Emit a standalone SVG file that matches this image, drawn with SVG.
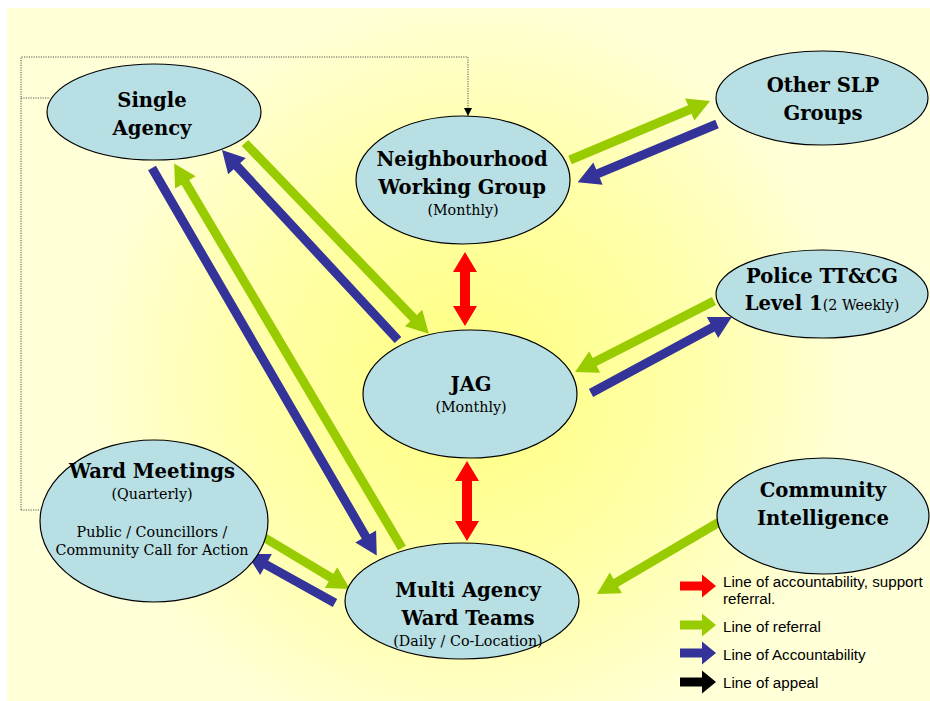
<svg xmlns="http://www.w3.org/2000/svg" width="930" height="701" viewBox="0 0 930 701">
<defs>
<radialGradient id="bg" gradientUnits="userSpaceOnUse" cx="470" cy="380" r="390">
<stop offset="0" stop-color="#FFFF80"/>
<stop offset="0.55" stop-color="#FFFFA8"/>
<stop offset="1" stop-color="#FFFFD8"/>
</radialGradient>
<marker id="dotHead" viewBox="0 0 10 10" refX="10" refY="5" markerWidth="8" markerHeight="8" markerUnits="userSpaceOnUse" orient="auto">
<path d="M0,0 L10,5 L0,10 z" fill="#000"/>
</marker>
<style>
.node{fill:#B8DFE3;stroke:#000;stroke-width:1.2}
.t{font-family:"DejaVu Serif","Liberation Serif",serif;font-weight:bold;font-size:19.6px;fill:#000;text-anchor:middle}
.s{font-family:"DejaVu Serif","Liberation Serif",serif;font-weight:normal;font-size:14.3px;fill:#000;text-anchor:middle}
.green{fill:#99CC00}
.blue{fill:#333399}
.red{fill:#FF0000}
.black{fill:#000}
.dot{fill:none;stroke:#555;stroke-width:1;stroke-dasharray:1.2,1.2}
.leg{font-family:"Liberation Sans",Arial,sans-serif;font-size:15.2px;fill:#000}
</style>
</defs>
<rect x="0" y="0" width="930" height="701" fill="#fff"/>
<rect x="7" y="8" width="923" height="693" fill="url(#bg)"/>

<g id="connectors">
<path class="dot" d="M21,510 L40,510"/>
<path class="dot" d="M21,98 L50,98"/>
<path class="dot" d="M21,510 L21,57 L468,57 L468,116" marker-end="url(#dotHead)"/>
<polygon class="green" transform="translate(570,160) rotate(-22.85)" points="0,-4.5 130,-4.5 130,-12 152,0 130,12 130,4.5 0,4.5"/>
<polygon class="blue" transform="translate(717,124) rotate(157.35)" points="0,-4.5 129,-4.5 129,-12 151,0 129,12 129,4.5 0,4.5"/>
<polygon class="green" transform="translate(714,301) rotate(152.94)" points="0,-4.5 134,-4.5 134,-12 156,0 134,12 134,4.5 0,4.5"/>
<polygon class="blue" transform="translate(591,393) rotate(-28.32)" points="0,-4.5 138,-4.5 138,-12 160,0 138,12 138,4.5 0,4.5"/>
<polygon class="blue" transform="translate(398,340) rotate(-132.81)" points="0,-4.5 237,-4.5 237,-12 259,0 237,12 237,4.5 0,4.5"/>
<polygon class="green" transform="translate(245,143) rotate(46.07)" points="0,-4.5 243,-4.5 243,-12 265,0 243,12 243,4.5 0,4.5"/>
<polygon class="blue" transform="translate(152,168) rotate(59.89)" points="0,-4.5 426,-4.5 426,-12 448,0 426,12 426,4.5 0,4.5"/>
<polygon class="green" transform="translate(402,548) rotate(-120.64)" points="0,-4.5 425,-4.5 425,-12 447,0 425,12 425,4.5 0,4.5"/>
<polygon class="green" transform="translate(265,538) rotate(30.96)" points="0,-4.5 77,-4.5 77,-12 99,0 77,12 77,4.5 0,4.5"/>
<polygon class="blue" transform="translate(335,603) rotate(-150.89)" points="0,-4.5 79,-4.5 79,-12 101,0 79,12 79,4.5 0,4.5"/>
<polygon class="green" transform="translate(721,521) rotate(149.51)" points="0,-4.5 122,-4.5 122,-12 144,0 122,12 122,4.5 0,4.5"/>
<polygon class="red" points="465,252 477,272 470,272 470,306 477,306 465,326 453,306 460,306 460,272 453,272"/>
<polygon class="red" points="467,461 479,481 472,481 472,521 479,521 467,541 455,521 462,521 462,481 455,481"/>
</g>

<g id="single-agency">
<ellipse class="node" cx="154" cy="112" rx="107" ry="48"/>
<text class="t" x="152" y="107">Single</text>
<text class="t" x="152" y="135">Agency</text>
</g>

<g id="neighbourhood-working-group">
<ellipse class="node" cx="463" cy="180" rx="107" ry="64"/>
<text class="t" x="462" y="166">Neighbourhood</text>
<text class="t" x="462" y="194">Working Group</text>
<text class="s" x="463" y="215">(Monthly)</text>
</g>

<g id="other-slp-groups">
<ellipse class="node" cx="822" cy="98" rx="106" ry="47"/>
<text class="t" x="823" y="92">Other SLP</text>
<text class="t" x="823" y="120">Groups</text>
</g>

<g id="police-ttcg">
<ellipse class="node" cx="822" cy="294" rx="106" ry="44"/>
<text class="t" x="822" y="283">Police TT&amp;CG</text>
<text class="t" x="822" y="310">Level 1<tspan font-weight="normal" font-size="14.3px">(2 Weekly)</tspan></text>
</g>

<g id="jag">
<ellipse class="node" cx="470" cy="394" rx="107" ry="64"/>
<text class="t" x="471" y="391">JAG</text>
<text class="s" x="471" y="412">(Monthly)</text>
</g>

<g id="ward-meetings">
<ellipse class="node" cx="154" cy="521" rx="114" ry="81"/>
<text class="t" x="152" y="478">Ward Meetings</text>
<text class="s" x="152" y="499">(Quarterly)</text>
<text class="s" x="152" y="537">Public / Councillors /</text>
<text class="s" x="152" y="555">Community Call for Action</text>
</g>

<g id="multi-agency-ward-teams">
<ellipse class="node" cx="462" cy="601" rx="117" ry="58"/>
<text class="t" x="468" y="597">Multi Agency</text>
<text class="t" x="468" y="625">Ward Teams</text>
<text class="s" x="468" y="646">(Daily / Co-Location)</text>
</g>

<g id="community-intelligence">
<ellipse class="node" cx="823" cy="516" rx="106" ry="58"/>
<text class="t" x="823" y="497">Community</text>
<text class="t" x="823" y="525">Intelligence</text>
</g>

<g id="legend">
<polygon class="red" points="680,581.5 702,581.5 702,574.5 716,586 702,597.5 702,590.5 680,590.5"/>
<polygon class="green" points="680,620.5 702,620.5 702,613.5 716,625 702,636.5 702,629.5 680,629.5"/>
<polygon class="blue" points="680,648.5 702,648.5 702,641.5 716,653 702,664.5 702,657.5 680,657.5"/>
<polygon class="black" points="680,677.5 702,677.5 702,670.5 716,682 702,693.5 702,686.5 680,686.5"/>
<text class="leg" x="723" y="587">Line of accountability, support</text>
<text class="leg" x="723" y="604">referral.</text>
<text class="leg" x="723" y="632">Line of referral</text>
<text class="leg" x="723" y="660">Line of Accountability</text>
<text class="leg" x="723" y="688">Line of appeal</text>
</g>
</svg>
